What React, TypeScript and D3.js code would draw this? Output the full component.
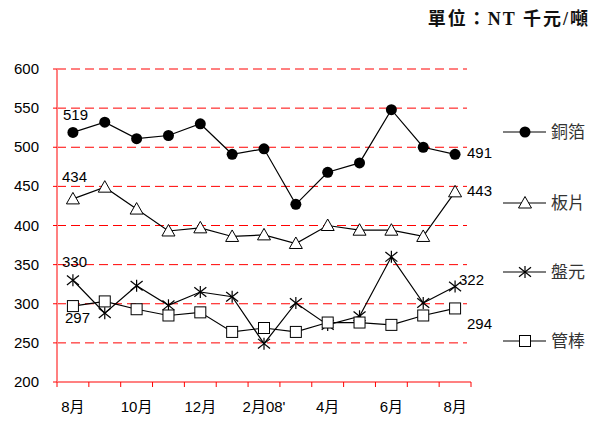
import React from 'react'
import * as d3 from 'd3'

const months = ['8月', '9月', '10月', '11月', '12月', '1月', '2月08\'', '3月', '4月', '5月', '6月', '7月', '8月']
const tickLabels = ['8月', '', '10月', '', '12月', '', '2月08\'', '', '4月', '', '6月', '', '8月']
const copper = [519, 532, 511, 515, 530, 491, 498, 427, 468, 480, 548, 500, 491]
const plate = [434, 449, 421, 393, 397, 386, 388, 377, 400, 394, 394, 386, 443]
const disc = [330, 288, 323, 298, 315, 309, 249, 301, 273, 284, 360, 301, 322]
const pipe = [297, 303, 293, 285, 289, 264, 269, 264, 276, 276, 273, 285, 294]
const seriesNames = ['銅箔', '板片', '盤元', '管棒']
const yTicks = [200, 250, 300, 350, 400, 450, 500, 550, 600]

const W = 601
const H = 423
const left = 57
const right = 471
const top = 69
const bottom = 382

const x = d3.scaleBand<number>().domain(d3.range(months.length)).range([left, right]).padding(0)
const cx = (i: number) => (x(i) as number) + x.bandwidth() / 2
const y = d3.scaleLinear().domain([200, 600]).range([bottom, top])

const font = 'Arial, "Liberation Sans", "Noto Sans CJK TC", sans-serif'

function Marker({ kind, px, py }: { kind: string; px: number; py: number }) {
    if (kind === 'circle') return <circle cx={px} cy={py} r={5.5} fill="#000" />
    if (kind === 'triangle')
        return <path d={`M${px},${py - 6.5}L${px + 6.5},${py + 5}L${px - 6.5},${py + 5}Z`} fill="#fff" stroke="#000" strokeWidth={1} />
    if (kind === 'square')
        return <rect x={px - 5.5} y={py - 5.5} width={11} height={11} fill="#fff" stroke="#000" strokeWidth={1} />
    const r = 6
    return (
        <g stroke="#000" strokeWidth={1.2}>
            <line x1={px} y1={py - r} x2={px} y2={py + r} />
            <line x1={px - r} y1={py - r * 0.8} x2={px + r} y2={py + r * 0.8} />
            <line x1={px - r} y1={py + r * 0.8} x2={px + r} y2={py - r * 0.8} />
        </g>
    )
}

export default function App() {
    const series = [
        { data: copper, kind: 'circle' },
        { data: plate, kind: 'triangle' },
        { data: disc, kind: 'asterisk' },
        { data: pipe, kind: 'square' },
    ]
    const line = d3.line<number>().x((d, i) => cx(i)).y(d => y(d))

    // value labels at the first and last points
    const startLabels = [
        { v: copper[0], x: 63, y: 120 },
        { v: plate[0], x: 62, y: 182 },
        { v: disc[0], x: 62, y: 267 },
        { v: pipe[0], x: 65, y: 323 },
    ]
    const endLabels = [
        { v: copper[12], x: 467, y: 158 },
        { v: plate[12], x: 467, y: 196 },
        { v: disc[12], x: 459, y: 285 },
        { v: pipe[12], x: 467, y: 329 },
    ]
    const legendY = [132, 203, 272, 341]

    return (
        <svg width={W} height={H} style={{ position: 'absolute', left: 0, top: 0, background: '#fff' }}>
            <rect width={W} height={H} fill="#fff" />
            <text x={590} y={25} textAnchor="end" fontSize={18} fontWeight={600} letterSpacing={2}
                fontFamily='"Liberation Serif", "Noto Sans CJK TC", serif' fill="#111">
                單位：NT 千元/噸
            </text>

            {/* grid */}
            {yTicks.filter(t => t > 200).map(t => (
                <line key={t} x1={left} x2={right - 4} y1={y(t)} y2={y(t)} stroke="#ff0000" strokeWidth={1} strokeDasharray="9,5" />
            ))}

            {/* axes */}
            <line x1={left} x2={left} y1={top} y2={bottom} stroke="#ff8080" strokeWidth={2} />
            <line x1={left} x2={right} y1={bottom} y2={bottom} stroke="#ff8080" strokeWidth={2} />
            {yTicks.map(t => (
                <line key={'yt' + t} x1={left - 4} x2={left} y1={y(t)} y2={y(t)} stroke="#ff0000" strokeWidth={1} />
            ))}
            {d3.range(months.length + 1).map(i => {
                const xx = i < months.length ? (x(i) as number) : right
                return <line key={'xt' + i} x1={xx} x2={xx} y1={bottom} y2={bottom + 5} stroke="#ff0000" strokeWidth={1} />
            })}
            {yTicks.map(t => (
                <text key={'yl' + t} x={39} y={y(t) + 5} textAnchor="end" fontSize={15} fontFamily={font} fill="#000">{t}</text>
            ))}
            {tickLabels.map((m, i) => m ? (
                <text key={'xl' + i} x={cx(i)} y={412} textAnchor="middle" fontSize={15} fontFamily={font} fill="#000">{m}</text>
            ) : null)}

            {/* series */}
            {series.map((s, si) => (
                <g key={si}>
                    <path d={line(s.data) as string} fill="none" stroke="#000" strokeWidth={1.2} />
                    {s.data.map((v, i) => <Marker key={i} kind={s.kind} px={cx(i)} py={y(v)} />)}
                </g>
            ))}

            {startLabels.map((l, i) => (
                <text key={'sl' + i} x={l.x} y={l.y} fontSize={15} fontFamily={font} fill="#000">{l.v}</text>
            ))}
            {endLabels.map((l, i) => (
                <text key={'el' + i} x={l.x} y={l.y} fontSize={15} fontFamily={font} fill="#000">{l.v}</text>
            ))}

            {/* legend */}
            {series.map((s, i) => (
                <g key={'lg' + i}>
                    <line x1={503} x2={546} y1={legendY[i]} y2={legendY[i]} stroke="#000" strokeWidth={1.2} />
                    <Marker kind={s.kind} px={525} py={legendY[i]} />
                    <text x={551} y={legendY[i] + 6} fontSize={17} fontFamily='"Noto Sans CJK TC", sans-serif' fill="#333">{seriesNames[i]}</text>
                </g>
            ))}
        </svg>
    )
}
